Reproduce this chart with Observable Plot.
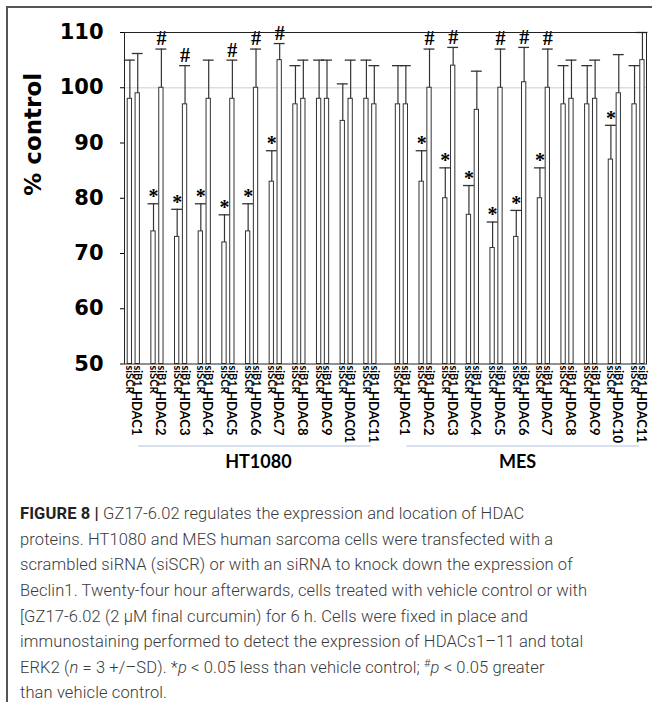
<!DOCTYPE html>
<html><head><meta charset="utf-8">
<script src="https://cdn.jsdelivr.net/npm/d3@7"></script>
<script src="https://cdn.jsdelivr.net/npm/@observablehq/plot@0.6"></script>
<style>
html,body{margin:0;padding:0;background:#fff;}
body{width:652px;height:702px;position:relative;overflow:hidden;}
#frameTop{position:absolute;left:6px;top:6px;width:646px;height:2px;background:#555;}
#frameLeft{position:absolute;left:6px;top:6px;width:2px;height:696px;background:#555;}
#chart{position:absolute;left:0;top:0;}
#caption{position:absolute;left:20px;top:501px;font-family:Roboto,"Liberation Sans",sans-serif;font-weight:300;font-size:16.5px;letter-spacing:0.12px;line-height:25.7px;color:#3a3a3a;white-space:nowrap;}
#caption div{height:25.7px;}
#caption div.last{height:18px;line-height:18px;margin-top:3px;}
#caption b{color:#222;font-weight:700;}
#caption sup{font-size:11px;line-height:0;vertical-align:0;position:relative;top:-6px;}
#chart svg g[aria-label^="y-axis"] text{font:bold 21px "DejaVu Sans";fill:#000;}
#chart svg g[aria-label^="y-axis"] line, #chart svg g[aria-label^="y-axis"] path{stroke:#000;}
</style></head>
<body>
<div id="chart"></div>
<div id="frameTop"></div><div id="frameLeft"></div>
<div id="caption">
<div><b>FIGURE 8 |</b> GZ17-6.02 regulates the expression and location of HDAC</div>
<div>proteins. HT1080 and MES human sarcoma cells were transfected with a</div>
<div>scrambled siRNA (siSCR) or with an siRNA to knock down the expression of</div>
<div>Beclin1. Twenty-four hour afterwards, cells treated with vehicle control or with</div>
<div>[GZ17-6.02 (2 μM final curcumin) for 6 h. Cells were fixed in place and</div>
<div>immunostaining performed to detect the expression of HDACs1–11 and total</div>
<div>ERK2 (<i>n</i> = 3 +/–SD). *<i>p</i> &lt; 0.05 less than vehicle control; <sup>#</sup><i>p</i> &lt; 0.05 greater</div>
<div class="last">than vehicle control.</div>
</div>
<script>
const groups = ["HT1080", "MES"];
const treatments = ["siSCR", "siB1"];
const htHdacs  = ["HDAC1","HDAC2","HDAC3","HDAC4","HDAC5","HDAC6","HDAC7","HDAC8","HDAC9","HDAC01","HDAC11"];
const mesHdacs = ["HDAC1","HDAC2","HDAC3","HDAC4","HDAC5","HDAC6","HDAC7","HDAC8","HDAC9","HDAC10","HDAC11"];

const htSCR     = [98, 74, 73, 74, 72, 74, 83, 97, 98, 94, 98];
const htSCRerr  = [105, 79, 78, 79, 77, 79, 88.6, 104, 105, 100.7, 105];
const htSCRmark = ["", "*", "*", "*", "*", "*", "*", "", "", "", ""];
const htB1      = [99, 100, 97, 98, 98, 100, 105, 98, 98, 98, 97];
const htB1err   = [106.2, 107, 104, 105, 105, 107, 108, 105, 105, 105, 104];
const htB1mark  = ["", "#", "#", "", "#", "#", "#", "", "", "", ""];

const mesSCR     = [97, 83, 80, 77, 71, 73, 80, 97, 97, 87, 97];
const mesSCRerr  = [104, 88.6, 85.5, 82.3, 75.7, 77.8, 85.5, 104, 104, 93.2, 104];
const mesSCRmark = ["", "*", "*", "*", "*", "*", "*", "", "", "*", ""];
const mesB1      = [97, 100, 104, 96, 100, 101, 100, 98, 98, 99, 105];
const mesB1err   = [104, 107, 107.3, 103, 107, 107.3, 107, 105, 105, 106, 110];
const mesB1mark  = ["", "#", "#", "", "#", "#", "#", "", "", "", ""];

const yTicks = [50, 60, 70, 80, 90, 100, 110];

const series = [
  [groups[0], htHdacs, [htSCR, htSCRerr, htSCRmark], [htB1, htB1err, htB1mark]],
  [groups[1], mesHdacs, [mesSCR, mesSCRerr, mesSCRmark], [mesB1, mesB1err, mesB1mark]]
];
const rows = [];
const domain = [];
series.forEach(([g, hd, scr, b1], gi) => {
  if (gi > 0) domain.push("gap");
  hd.forEach((h, i) => {
    const k = `${g}|${i}`;
    [scr, b1].forEach((s, ti) => {
      rows.push({key: `${k}|${treatments[ti]}`, group: g, hdac: h, treat: treatments[ti],
                 value: s[0][i], err: s[1][i], mark: s[2][i]});
      domain.push(`${k}|${treatments[ti]}`);
    });
    if (!(gi === series.length - 1 && i === hd.length - 1)) domain.push(`${k}|_`);
  });
});

const lbl = {fontFamily: "Lato", fontWeight: "bold", fill: "#000"};
const plot = Plot.plot({
  width: 652, height: 480,
  marginTop: 32, marginBottom: 116.5, marginLeft: 124, marginRight: 6,
  style: {background: "transparent"},
  x: {type: "band", domain, axis: null, paddingInner: 0.4547, paddingOuter: 0.3239, align: 0.626, round: false},
  y: {domain: [50, 110], ticks: yTicks, tickSize: 4, tickPadding: 17, label: null},
  marks: [
    Plot.ruleY([100], {stroke: "#d5dfee", strokeWidth: 1.3}),
    Plot.barY(rows, {x: "key", y1: () => 50, y2: "value", fill: "white", stroke: "#333", strokeWidth: 1}),
    Plot.ruleX(rows, {x: "key", y1: "value", y2: "err", stroke: "#333", strokeWidth: 1.2}),
    Plot.tickY(rows, {x: "key", y: "err", stroke: "#333", strokeWidth: 1.3, insetLeft: -3.3, insetRight: -3.3}),
    Plot.text(rows.filter(d => d.mark === "*"), {x: "key", y: "err", text: "mark", dy: -7, fontSize: 20, fontWeight: "bold", fontFamily: "Liberation Serif", fill: "#000"}),
    Plot.text(rows.filter(d => d.mark === "#"), {x: "key", y: "err", text: "mark", dy: -10, fontSize: 20, fontWeight: "bold", fontFamily: "Liberation Serif", fill: "#000"}),
    Plot.frame({stroke: "#222"}),
    Plot.text(rows, {x: "key", text: "treat", frameAnchor: "bottom", rotate: 90, textAnchor: "start", dx: -3.5, dy: 1.5, fontSize: 11, ...lbl}),
    Plot.text(rows.filter(d => d.treat === "siSCR"), {x: "key", text: "hdac", frameAnchor: "bottom", rotate: 90, textAnchor: "start", dx: 2.5, dy: 27, fontSize: 13, ...lbl}),
    Plot.text(["% control"], {text: d => d, frameAnchor: "left", rotate: -90, dx: -91, dy: -2.5, fontSize: 23, fontWeight: "bold", fontFamily: "DejaVu Sans", fill: "#000"})
  ]
});
document.getElementById("chart").appendChild(plot);

// group brackets and labels, positioned through the plot's x scale
const xs = plot.scale("x");
const svg = d3.select(plot);
const labelShift = [4, -5];
series.forEach(([g, hd], gi) => {
  const first = xs.apply(`${g}|0|siSCR`);
  const last = xs.apply(`${g}|${hd.length - 1}|siB1`);
  const x1 = first + 11, x2 = last - 1;
  svg.append("line").attr("x1", x1).attr("x2", x2).attr("y1", 446).attr("y2", 446)
    .attr("stroke", "#c9d6ea").attr("stroke-width", 1.6);
  svg.append("text").attr("x", (x1 + x2) / 2 + labelShift[gi]).attr("y", 468)
    .attr("text-anchor", "middle").attr("font-family", "Lato").attr("font-weight", "bold")
    .attr("font-size", 18).attr("fill", "#000").text(g);
});
</script>
</body></html>
